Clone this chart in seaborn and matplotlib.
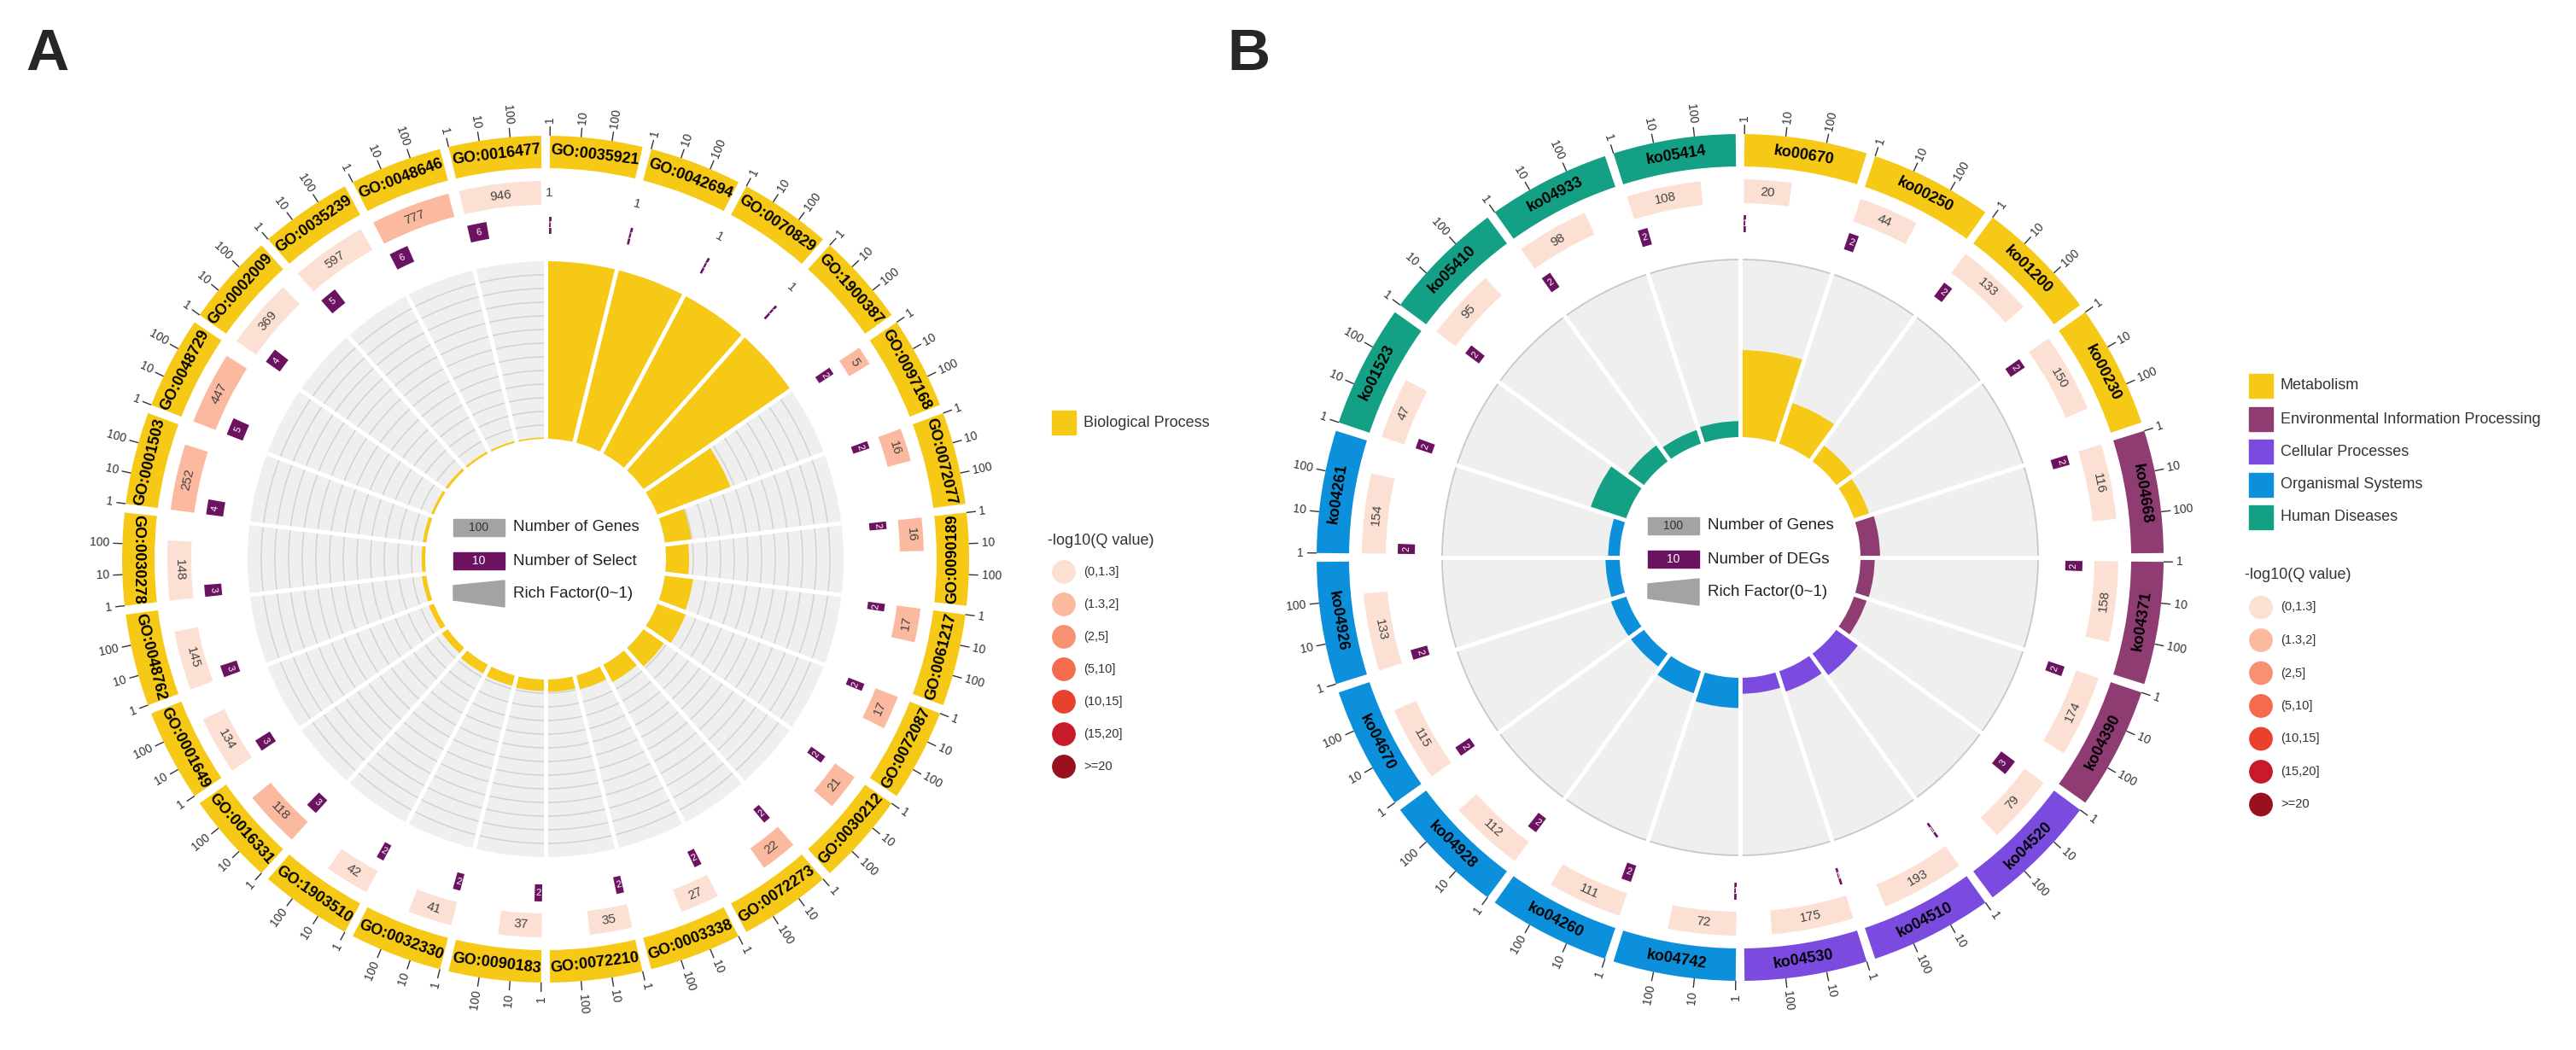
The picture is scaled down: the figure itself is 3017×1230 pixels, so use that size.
import numpy as np
import pandas as pd
import matplotlib.pyplot as plt
import seaborn as sns
from matplotlib.patches import Rectangle, Polygon

# --- panel A data (GO terms, clockwise from top) ---
go_terms = ['GO:0035921', 'GO:0042694', 'GO:0070829', 'GO:1900387', 'GO:0097168',
            'GO:0072077', 'GO:0090189', 'GO:0061217', 'GO:0072087', 'GO:0030212',
            'GO:0072273', 'GO:0003338', 'GO:0072210', 'GO:0090183', 'GO:0032330',
            'GO:1903510', 'GO:0016331', 'GO:0001649', 'GO:0048762', 'GO:0030278',
            'GO:0001503', 'GO:0048729', 'GO:0002009', 'GO:0035239', 'GO:0048646',
            'GO:0016477']
go_genes = [1, 1, 1, 1, 5, 16, 16, 17, 17, 21, 22, 27, 35, 37, 41, 42, 118, 134, 145,
            148, 252, 447, 369, 597, 777, 946]
go_select = [1, 1, 1, 1, 2, 2, 2, 2, 2, 2, 2, 2, 2, 2, 2, 2, 3, 3, 3, 3, 4, 5, 4, 5, 6, 6]
go_rich = [1.0, 1.0, 1.0, 1.0, 0.44, 0.15, 0.13, 0.16, 0.17, 0.14, 0.11, 0.08, 0.07,
           0.065, 0.06, 0.055, 0.04, 0.03, 0.025, 0.02, 0.02, 0.015, 0.015, 0.012,
           0.01, 0.008]
go_qlog = [1.0, 1.0, 1.0, 1.0, 1.6, 1.6, 1.6, 1.6, 1.6, 1.6, 1.6, 1.0, 1.0, 1.0, 1.0,
           1.0, 1.6, 1.0, 1.0, 1.0, 1.6, 1.6, 1.0, 1.0, 1.6, 1.0]
go_class = ['Biological Process'] * len(go_terms)

# --- panel B data (KEGG pathways, clockwise from top) ---
ko_ids = ['ko00670', 'ko00250', 'ko01200', 'ko00230', 'ko04668', 'ko04371', 'ko04390',
          'ko04520', 'ko04510', 'ko04530', 'ko04742', 'ko04260', 'ko04928', 'ko04670',
          'ko04926', 'ko04261', 'ko01523', 'ko05410', 'ko04933', 'ko05414']
ko_genes = [20, 44, 133, 150, 116, 158, 174, 79, 193, 175, 72, 111, 112, 115, 133, 154,
            47, 95, 98, 108]
ko_degs = [1, 2, 2, 2, 2, 2, 2, 3, 1, 1, 1, 2, 2, 2, 2, 2, 2, 2, 2, 2]
ko_rich = [0.49, 0.24, 0.11, 0.09, 0.11, 0.08, 0.075, 0.15, 0.12, 0.09, 0.17, 0.13,
           0.09, 0.09, 0.08, 0.065, 0.21, 0.11, 0.08, 0.09]
ko_qlog = [0.8] * len(ko_ids)
ko_class = ['Metabolism'] * 4 + ['Environmental Information Processing'] * 3 + \
           ['Cellular Processes'] * 3 + ['Organismal Systems'] * 6 + ['Human Diseases'] * 4

class_colors = {'Biological Process': '#F6C917', 'Metabolism': '#F6C917',
                'Environmental Information Processing': '#8E3C72',
                'Cellular Processes': '#7B4BDF', 'Organismal Systems': '#0D90DB',
                'Human Diseases': '#14A084'}
q_labels = ['(0,1.3]', '(1.3,2]', '(2,5]', '(5,10]', '(10,15]', '(15,20]', '>=20']
q_colors = ['#FDE0D4', '#FBBAA0', '#F89172', '#F46B4F', '#E8412E', '#C81B29', '#99101F']
q_bins = [0, 1.3, 2, 5, 10, 15, 20, np.inf]

sns.set_theme(style='white')
plt.rcParams['font.family'] = ['Liberation Sans', 'DejaVu Sans']

W, H = 3017, 1230
fig = plt.figure(figsize=(W / 100, H / 100), dpi=100)
fig.patch.set_facecolor('white')

R0, R1 = 141, 349          # inner track
RMAX = 560


def tang_rot(t):
    t = t % 360
    if 89.9 <= t <= 270.1:
        return 180 - t
    return -t


def radial_rot(t):
    t = t % 360
    if t < 179.9:
        return 90 - t, 'left'
    return 270 - t, 'right'


def draw_circle(cx, cy, labels, genes, select, rich, qlog, classes, grid):
    ax = fig.add_axes([(cx - RMAX) / W, (H - cy - RMAX) / H, 2 * RMAX / W, 2 * RMAX / H],
                      projection='polar')
    ax.set_theta_zero_location('N')
    ax.set_theta_direction(-1)
    ax.set_ylim(0, RMAX)
    ax.set_axis_off()

    df = pd.DataFrame({'label': labels, 'genes': genes, 'select': select,
                       'rich': rich, 'cls': classes})
    df['q'] = pd.cut(qlog, bins=q_bins, labels=q_labels)
    n = len(df)
    S = 360 / n
    gap = 1.2
    wd = S - gap
    L = 3.0
    rad = np.radians

    # inner grey track
    mids = (np.arange(n) + 0.5) * S
    ax.bar(rad(mids), R1 - R0, width=rad(S), bottom=R0, color='#EFEFEF', linewidth=0, zorder=1)
    full = np.linspace(0, 2 * np.pi, 721)
    if grid:
        for r in R0 + 16 * np.arange(1, 13):
            ax.plot(full, np.full_like(full, r), color='#D2D2D2', lw=1.1, zorder=2)
    else:
        ax.plot(full, np.full_like(full, R1), color='#C8C8C8', lw=1.3, zorder=2)
    ax.bar(rad(mids), df['rich'] * (R1 - R0), width=rad(S), bottom=R0,
           color=[class_colors[c] for c in df['cls']], linewidth=0, zorder=3)
    for i in range(n):
        ax.plot(rad([i * S, i * S]), [R0 - 3, R1 + 3], color='white', lw=3.5, zorder=4,
                solid_capstyle='butt')

    for i, row in df.iterrows():
        start = i * S + gap / 2
        mid = i * S + S / 2
        col = class_colors[row['cls']]
        # label ring
        ax.bar(rad(mid), 38, width=rad(wd), bottom=458, color=col, linewidth=0)
        ax.text(rad(mid), 477, row['label'], rotation=tang_rot(mid), rotation_mode='anchor',
                ha='center', va='center', fontsize=13, fontweight='bold', color='black')
        # log ticks
        for v, lab in zip([0, 1, 2], ['1', '10', '100']):
            t = start + v / L * wd
            ax.plot(rad([t, t]), [496, 507], color='#333333', lw=1.0, solid_capstyle='butt')
            rot, ha = radial_rot(t)
            ax.text(rad(t), 511, lab, rotation=rot, rotation_mode='anchor', ha=ha,
                    va='center', fontsize=10, color='#333333')
        # number of genes
        span = np.log10(row['genes']) / L * wd
        if row['genes'] > 1:
            qc = q_colors[q_labels.index(row['q'])]
            ax.bar(rad(start + span / 2), 28, width=rad(span), bottom=415, color=qc,
                   linewidth=0)
        tm = start + span / 2
        ax.text(rad(tm), 429, str(row['genes']), rotation=tang_rot(tm), rotation_mode='anchor',
                ha='center', va='center', fontsize=11, color='#444444')
        # number of select / DEGs
        sp = max(np.log10(row['select']) / L * wd, 0.4)
        ax.bar(rad(start + sp / 2), 20, width=rad(sp), bottom=381, color='#6B1261', linewidth=0)
        tm = start + sp / 2
        ax.text(rad(tm), 391, str(row['select']), rotation=tang_rot(tm), rotation_mode='anchor',
                ha='center', va='center', fontsize=8,
                color='white', clip_on=False)
    return ax


draw_circle(639, 655, go_terms, go_genes, go_select, go_rich, go_qlog, go_class, True)
draw_circle(2038, 653, ko_ids, ko_genes, ko_degs, ko_rich, ko_qlog, ko_class, False)

# overlay in pixel coordinates for letters and legends
ov = fig.add_axes([0, 0, 1, 1])
ov.set_xlim(0, W)
ov.set_ylim(H, 0)
ov.axis('off')
ov.patch.set_alpha(0)

ov.text(30, 32, 'A', fontsize=50, fontweight='bold', ha='left', va='top')
ov.text(1437, 32, 'B', fontsize=50, fontweight='bold', ha='left', va='top')


def center_legend(cx, cy, second):
    ov.add_patch(Rectangle((cx - 108, cy - 47), 60, 20, color='#A3A3A3'))
    ov.text(cx - 78, cy - 37, '100', ha='center', va='center', fontsize=10, color='#333333')
    ov.text(cx - 38, cy - 37, 'Number of Genes', ha='left', va='center', fontsize=13.5,
            color='#222222')
    ov.add_patch(Rectangle((cx - 108, cy - 8), 60, 20, color='#6B1261'))
    ov.text(cx - 78, cy + 2, '10', ha='center', va='center', fontsize=10, color='white')
    ov.text(cx - 38, cy + 2, second, ha='left', va='center', fontsize=13.5, color='#222222')
    ov.add_patch(Polygon([(cx - 108, cy + 31), (cx - 48, cy + 25), (cx - 48, cy + 56),
                          (cx - 108, cy + 48)], closed=True, color='#A3A3A3'))
    ov.text(cx - 38, cy + 41, 'Rich Factor(0~1)', ha='left', va='center', fontsize=13.5,
            color='#222222')


center_legend(639, 655, 'Number of Select')
center_legend(2038, 653, 'Number of DEGs')


def side_legend(x0, classes, y_cls, title_y, y_circ0, step):
    for k, c in enumerate(classes):
        y = y_cls[k]
        ov.add_patch(Rectangle((x0, y - 14), 28, 28, color=class_colors[c]))
        ov.text(x0 + 37, y, c, ha='left', va='center', fontsize=13, color='#333333')
    ov.text(x0 - 5, title_y, '-log10(Q value)', ha='left', va='center', fontsize=13,
            color='#333333')
    leg = pd.DataFrame({'x': [x0 + 14] * len(q_labels),
                        'y': [y_circ0 + step * k for k in range(len(q_labels))],
                        'q': q_labels})
    sns.scatterplot(data=leg, x='x', y='y', hue='q', palette=q_colors, s=400,
                    edgecolor='none', legend=False, ax=ov)
    for k, lab in enumerate(q_labels):
        ov.text(x0 + 37, y_circ0 + step * k, lab, ha='left', va='center', fontsize=10.5,
                color='#333333')


side_legend(1232, ['Biological Process'], [495], 633, 670, 38)
side_legend(2634, ['Metabolism', 'Environmental Information Processing', 'Cellular Processes',
                   'Organismal Systems', 'Human Diseases'],
            [452, 491, 529, 568, 606], 674, 711.5, 38.5)

ov.set_xlim(0, W)
ov.set_ylim(H, 0)
ov.set_xlabel('')
ov.set_ylabel('')

fig.savefig('out.png', dpi=100, facecolor='white')
